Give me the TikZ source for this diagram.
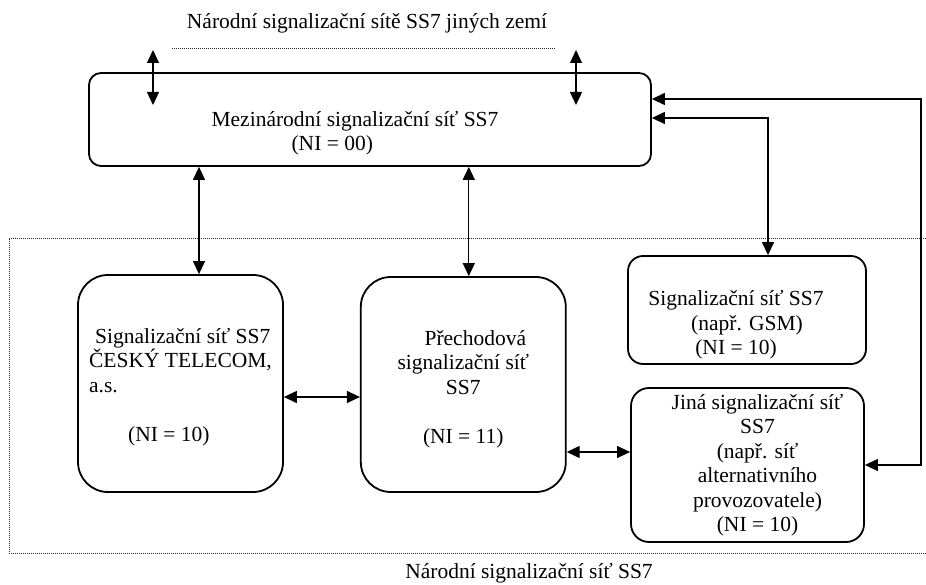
\documentclass[tikz,border=0pt]{standalone}
\usepackage{fontspec}
\setmainfont{Liberation Serif}
\usetikzlibrary{arrows.meta,positioning}

\tikzset{
  net/.style={draw,rectangle,line width=1.8pt,align=center,inner sep=0pt},
  link/.style={line width=1.3pt,{Triangle[length=13pt,width=12pt]}-{Triangle[length=13pt,width=12pt]}},
  border/.style={line width=0.9pt,dash pattern=on 1pt off 1pt,black!85},
}

\begin{document}
\begin{tikzpicture}[x=1pt,y=-1pt,font=\fontsize{21.5}{24.5}\selectfont]
    \useasboundingbox (0,0) rectangle (926,585);

    % national area frame and the two captions
    \draw[border] (926,238) -- (9,238) -- (9,553) -- (926,553);
    \draw[border] (172,48) -- (555,48);
    \node (ciz) at (367,23) {Národní signalizační sítě SS7 jiných zemí};
    \node (nar) at (529,573) {Národní signalizační síť SS7};

    \node[net,rounded corners=12pt,minimum width=562pt,minimum height=93pt,align=left] (mez) at (370,119.5)
        {\rule{0pt}{43pt}Mezinárodní signalizační síť SS7\hspace*{30pt}\\\hspace*{80pt}(NI = 00)};
    \node[net,rounded corners=30pt,minimum width=205pt,minimum height=217pt,align=left] (ct) at (180.5,383.5)
        {\rule{0pt}{22pt}\hspace*{6pt}Signalizační síť SS7\\ČESKÝ TELECOM,\\a.s.\\[24.5pt]\hspace*{39pt}(NI = 10)};
    \node[net,rounded corners=30pt,minimum width=205pt,minimum height=215pt,right=76pt of ct,yshift=-1pt] (tr)
        {\rule{0pt}{24pt}\hspace*{24pt}Přechodová\\signalizační síť\\SS7\\[24.5pt](NI = 11)};
    \node[net,rounded corners=15pt,minimum width=238pt,minimum height=108pt] (gsm) at (747,310)
        {\rule{0pt}{45pt}Signalizační síť SS7\hspace*{22pt}\\(např. GSM)\hspace*{22pt}\\(NI = 10)\hspace*{22pt}};
    \node[net,rounded corners=18pt,minimum width=233pt,minimum height=154pt] (jina) at (747.5,465)
        {\hspace*{20pt}Jiná signalizační síť\\\hspace*{20pt}SS7\\\hspace*{20pt}(např. síť\\\hspace*{20pt}alternativního\\\hspace*{20pt}provozovatele)\\\hspace*{20pt}(NI = 10)};

    % links to the networks of other countries
    \coordinate (zemeL) at (153,50);
    \coordinate (zemeR) at (576,50);
    \draw[link] (zemeL) -- ++(0,55);
    \draw[link] (zemeR) -- ++(0,55);

    \draw[link] ([xshift=18.5pt]ct.north |- mez.south) -- ([xshift=18.5pt]ct.north);
    \draw[link] ([xshift=5.5pt]tr.north |- mez.south) -- ([xshift=5.5pt]tr.north);
    \draw[link] ([yshift=-13.5pt]ct.east) -- ([yshift=-13.5pt]ct.east -| tr.west);
    \draw[link] ([yshift=13pt]jina.west -| tr.east) -- ([yshift=13pt]jina.west);
    \draw[link] ([xshift=21pt]gsm.north) |- ([yshift=1.5pt]mez.east);
    \draw[link] ([yshift=20.5pt]mez.east) -- ++(269,0) |- (jina.east);
\end{tikzpicture}
\end{document}
